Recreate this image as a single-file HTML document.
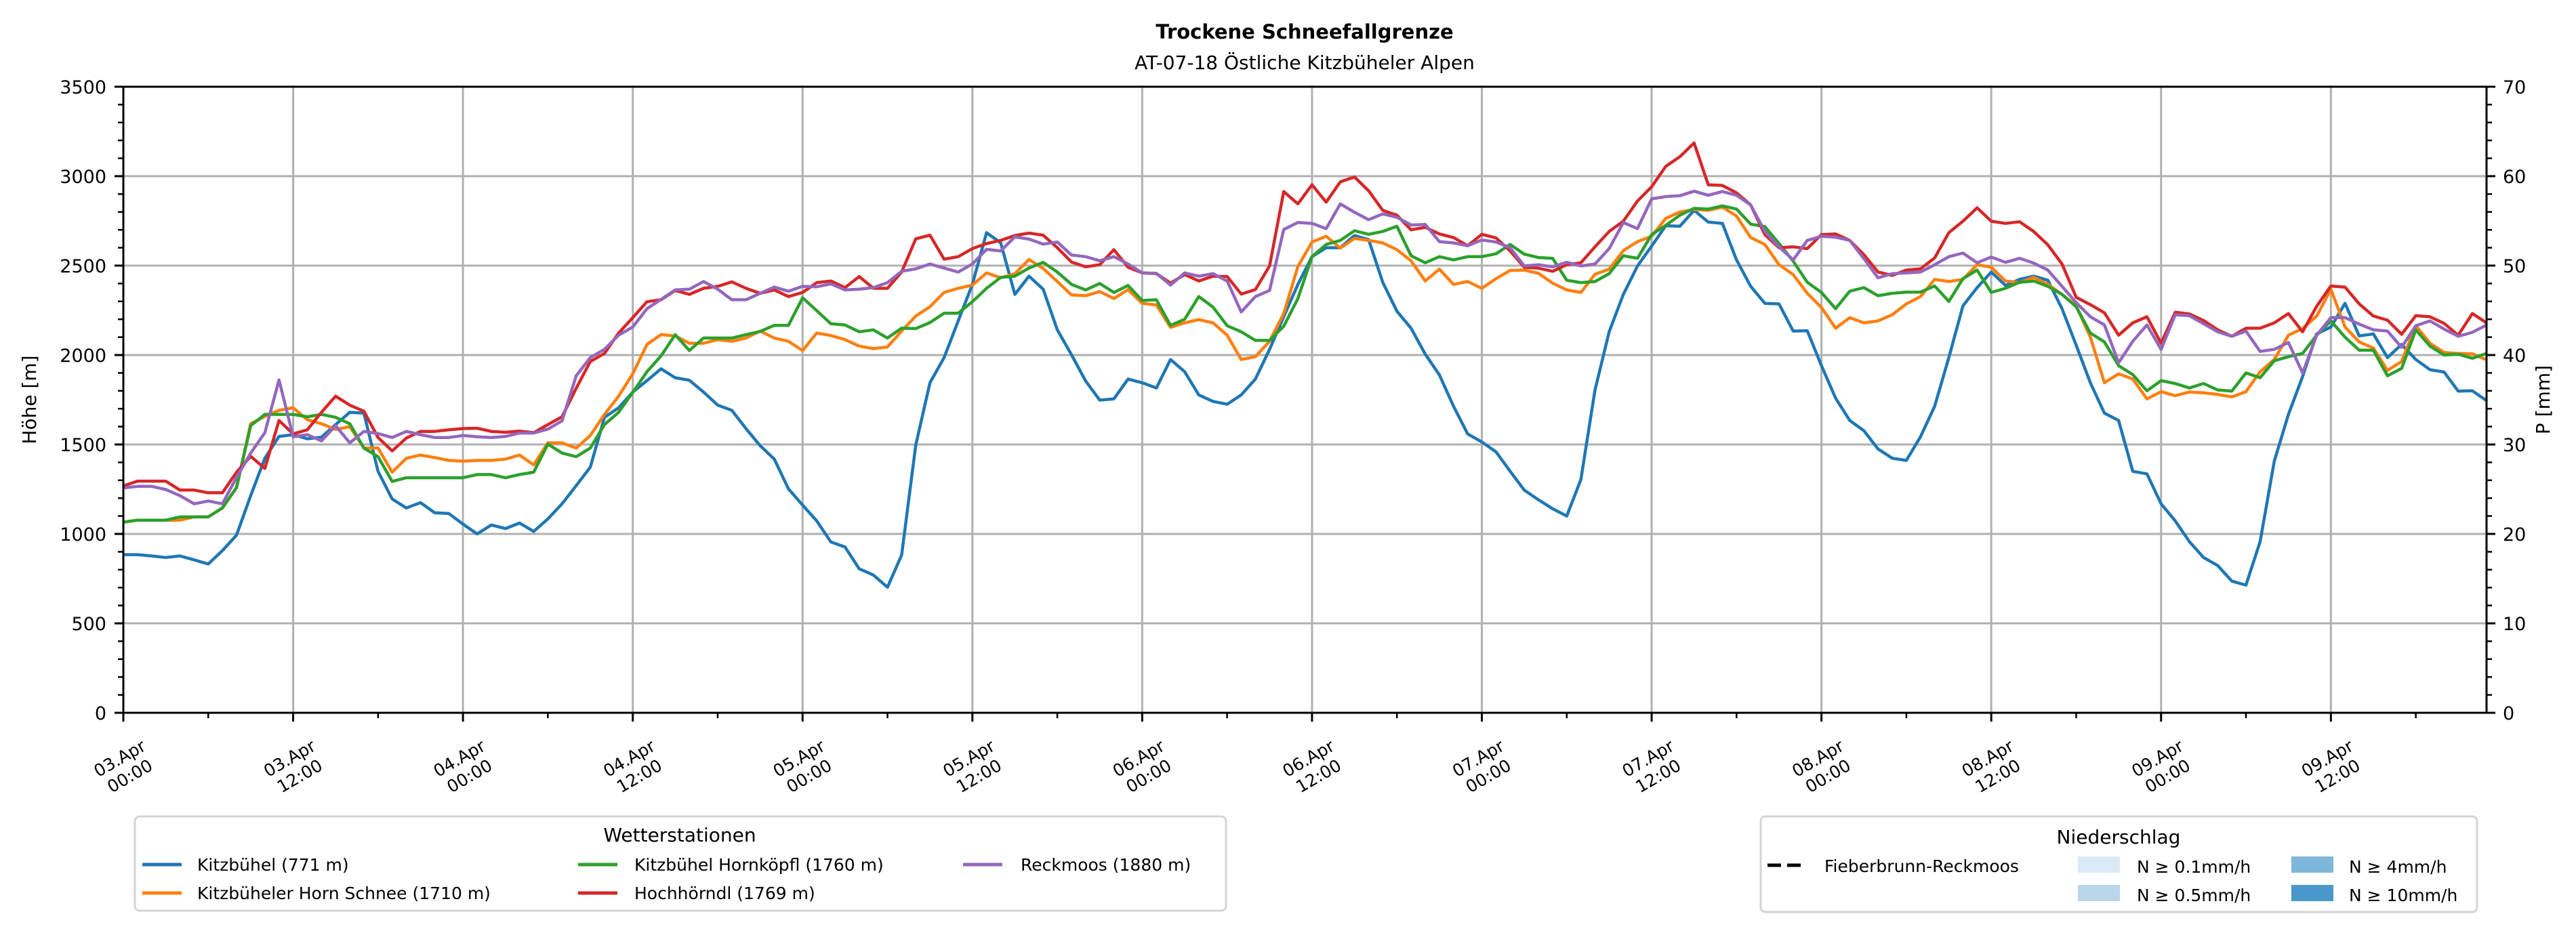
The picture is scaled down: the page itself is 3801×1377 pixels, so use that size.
<!DOCTYPE html>
<html><head><meta charset="utf-8"><style>
html,body{margin:0;padding:0;background:#fff;}
svg{display:block;font-family:"DejaVu Sans","Liberation Sans",sans-serif;}
</style></head><body>
<svg id="chart" width="3801" height="1377" viewBox="0 0 3801 1377" xmlns="http://www.w3.org/2000/svg">
<rect width="3801" height="1377" fill="#fff"/>
<text x="1925" y="57" text-anchor="middle" font-size="29" font-weight="bold">Trockene Schneefallgrenze</text>
<text x="1925" y="102" text-anchor="middle" font-size="28">AT-07-18 Östliche Kitzbüheler Alpen</text>
<g id="grid"></g>
<g id="series"></g>
<g id="axes"></g>
<text transform="translate(53,590) rotate(-90)" text-anchor="middle" font-size="28">Höhe [m]</text>
<text transform="translate(3762,590) rotate(-90)" text-anchor="middle" font-size="28">P [mm]</text>

<g>
<rect x="199" y="1205" width="1610" height="139" rx="7" fill="#fff" stroke="#d4d4d4" stroke-width="3"/>
<text x="1003" y="1242" text-anchor="middle" font-size="28">Wetterstationen</text>
<g><line x1="210" y1="1276" x2="268" y2="1276" stroke="#1f77b4" stroke-width="5"/><text x="291" y="1285" font-size="25">Kitzbühel (771 m)</text></g>
<g><line x1="210" y1="1318" x2="268" y2="1318" stroke="#ff7f0e" stroke-width="5"/><text x="291" y="1327" font-size="25">Kitzbüheler Horn Schnee (1710 m)</text></g>
<g><line x1="853" y1="1276" x2="911" y2="1276" stroke="#2ca02c" stroke-width="5"/><text x="936" y="1285" font-size="25">Kitzbühel Hornköpfl (1760 m)</text></g>
<g><line x1="853" y1="1318" x2="911" y2="1318" stroke="#d62728" stroke-width="5"/><text x="936" y="1327" font-size="25">Hochhörndl (1769 m)</text></g>
<g><line x1="1421" y1="1276" x2="1479" y2="1276" stroke="#9467bd" stroke-width="5"/><text x="1506" y="1285" font-size="25">Reckmoos (1880 m)</text></g>
</g>

<g>
<rect x="2598" y="1205" width="1057" height="141" rx="7" fill="#fff" stroke="#d4d4d4" stroke-width="3"/>
<text x="3126" y="1245" text-anchor="middle" font-size="28">Niederschlag</text>
<g><line x1="2608" y1="1277" x2="2666" y2="1277" stroke="#000" stroke-width="5" stroke-dasharray="20,9"/><text x="2692" y="1287" font-size="25">Fieberbrunn-Reckmoos</text></g>
<g><rect x="3066" y="1264" width="62" height="24" fill="#dbe9f6"/><text x="3153" y="1288" font-size="25">N ≥ 0.1mm/h</text></g>
<g><rect x="3066" y="1306" width="62" height="24" fill="#b8d5ea"/><text x="3153" y="1330" font-size="25">N ≥ 0.5mm/h</text></g>
<g><rect x="3381" y="1264" width="62" height="24" fill="#7fb7da"/><text x="3466" y="1288" font-size="25">N ≥ 4mm/h</text></g>
<g><rect x="3381" y="1306" width="62" height="24" fill="#4a98c9"/><text x="3466" y="1330" font-size="25">N ≥ 10mm/h</text></g>
</g>
</svg>
<script>
const kitzbuehel = [884,884,877,868,877,855,832,907,993,1214,1423,1545,1555,1532,1541,1611,1680,1675,1350,1195,1145,1175,1118,1114,1055,1000,1050,1030,1061,1014,1084,1168,1270,1373,1652,1705,1793,1857,1923,1873,1859,1793,1720,
1691,1589,1493,1418,1252,1161,1073,955,927,805,770,702,882,1498,1845,1986,2191,2395,2684,2627,2339,2441,2368,2141,2002,1855,1748,1755,1866,1845,1816,1975,1907,1777,1741,1725,1777,1866,2032,2214,2395,
2550,2600,2600,2668,2645,2407,2245,2150,2005,1889,1714,1559,1514,1459,1350,1245,1191,1141,1100,1305,1805,2130,2339,2498,2609,2723,2720,2809,2743,2736,2532,2384,2289,2286,2134,2136,1941,1759,1634,1577,1475,1423,
1411,1543,1714,1986,2275,2377,2464,2389,2423,2441,2418,2259,2055,1845,1675,1634,1350,1336,1168,1073,957,868,823,736,714,957,1407,1668,1880,2118,2157,2289,2107,2118,1986,2059,1975,1918,1905,1798,1800,1745];
const hornSchnee = [1066,1077,1077,1077,1077,1095,1095,1145,1259,1616,1657,1691,1705,1639,1616,1584,1600,1480,1480,1345,1423,1441,1427,1411,1407,1411,1411,1418,1441,1386,1509,1509,1480,1550,1668,1770,1895,2059,2114,2107,2066,2066,2086,
2077,2095,2134,2095,2077,2025,2123,2109,2086,2050,2036,2045,2134,2218,2270,2350,2373,2391,2459,2432,2455,2534,2484,2411,2336,2332,2355,2316,2366,2289,2280,2155,2180,2198,2180,2111,1975,1991,2077,2232,2495,
2632,2664,2598,2652,2641,2627,2589,2527,2414,2480,2395,2411,2373,2427,2473,2475,2457,2402,2364,2350,2452,2480,2584,2634,2664,2764,2800,2814,2809,2827,2777,2657,2618,2505,2450,2345,2266,2150,2209,2180,2191,2225,
2286,2327,2423,2411,2423,2505,2491,2414,2405,2434,2395,2339,2275,2100,1845,1895,1866,1755,1795,1773,1793,1789,1780,1766,1795,1907,1975,2111,2148,2218,2368,2157,2073,2039,1914,1964,2164,2066,2014,2009,2007,1973];
const hornkoepfl = [1066,1077,1077,1077,1095,1095,1095,1145,1259,1605,1668,1668,1668,1655,1668,1652,1616,1480,1432,1293,1314,1314,1314,1314,1314,1332,1332,1314,1332,1345,1502,1452,1432,1480,1611,1680,1791,1907,1995,2114,2025,2095,2095,
2095,2114,2132,2166,2166,2320,2248,2175,2168,2130,2141,2095,2150,2148,2182,2234,2234,2298,2373,2434,2441,2486,2518,2464,2395,2364,2400,2350,2389,2305,2309,2166,2200,2327,2268,2164,2130,2082,2082,2161,2316,
2550,2618,2641,2695,2675,2691,2720,2555,2516,2550,2532,2550,2550,2566,2618,2564,2545,2541,2418,2405,2411,2455,2555,2541,2673,2725,2782,2820,2816,2834,2816,2732,2718,2623,2525,2407,2350,2259,2357,2377,2332,2345,
2352,2352,2386,2300,2427,2475,2350,2373,2407,2414,2384,2339,2270,2123,2073,1941,1891,1800,1857,1841,1816,1841,1805,1798,1900,1873,1968,1991,2009,2111,2191,2100,2027,2027,1884,1925,2141,2050,2000,2005,1982,2009];
const hochhoerndl = [1268,1295,1295,1295,1245,1245,1230,1230,1345,1434,1366,1634,1559,1582,1680,1770,1720,1686,1539,1464,1536,1573,1573,1582,1589,1591,1573,1568,1575,1566,1611,1655,1814,1964,2009,2123,2209,2298,2309,2361,2339,2373,2384,
2409,2373,2345,2364,2327,2350,2405,2414,2377,2439,2373,2373,2464,2650,2670,2536,2550,2595,2623,2641,2668,2682,2670,2600,2520,2493,2505,2589,2491,2459,2455,2402,2450,2414,2441,2439,2341,2366,2498,2914,2845,
2952,2855,2968,2995,2918,2809,2782,2700,2714,2677,2657,2611,2675,2655,2582,2491,2486,2468,2505,2516,2605,2691,2748,2861,2941,3055,3109,3186,2952,2948,2907,2839,2673,2600,2605,2595,2673,2677,2641,2561,2464,2445,
2475,2482,2543,2684,2748,2823,2748,2736,2745,2691,2616,2509,2323,2282,2236,2111,2180,2214,2066,2239,2230,2193,2141,2105,2150,2150,2180,2232,2130,2273,2386,2380,2286,2218,2195,2116,2220,2214,2177,2111,2232,2180];
const reckmoos = [1257,1266,1266,1248,1214,1168,1184,1168,1316,1452,1566,1861,1543,1555,1520,1605,1509,1573,1561,1539,1573,1555,1539,1539,1550,1543,1539,1545,1564,1564,1586,1632,1884,1986,2032,2111,2157,2259,2311,2364,2368,2411,2368,
2309,2309,2345,2380,2357,2384,2382,2398,2364,2368,2377,2405,2468,2482,2509,2486,2464,2509,2591,2582,2661,2648,2620,2632,2559,2550,2527,2550,2509,2459,2457,2391,2459,2441,2455,2414,2241,2327,2361,2702,2741,
2736,2707,2845,2798,2757,2789,2770,2727,2730,2634,2627,2611,2643,2632,2600,2498,2505,2493,2518,2498,2509,2595,2741,2707,2873,2886,2891,2916,2893,2914,2893,2839,2691,2605,2532,2641,2664,2659,2641,2539,2432,2455,
2459,2464,2505,2550,2570,2516,2548,2518,2541,2514,2475,2384,2293,2214,2168,1957,2077,2168,2032,2225,2220,2175,2130,2105,2134,2020,2032,2070,1900,2111,2209,2209,2173,2141,2134,2043,2164,2191,2145,2105,2127,2168];
const yTicks = [0,500,1000,1500,2000,2500,3000,3500];
const y2Ticks = [0,10,20,30,40,50,60,70];
const xTickHours = [0,12,24,36,48,60,72,84,96,108,120,132,144,156];
const xTickDays = ["03.Apr","03.Apr","04.Apr","04.Apr","05.Apr","05.Apr","06.Apr","06.Apr","07.Apr","07.Apr","08.Apr","08.Apr","09.Apr","09.Apr"];
const xTickTimes = ["00:00","12:00","00:00","12:00","00:00","12:00","00:00","12:00","00:00","12:00","00:00","12:00","00:00","12:00"];

const NS='http://www.w3.org/2000/svg';
const L=182,R=3669,T=128,B=1052,HMAX=167;
const xs=h=>L+h*(R-L)/HMAX;
const ys=m=>B-m*(B-T)/3500;
const ys2=p=>B-p*(B-T)/70;
function mk(tag,attrs,parent){const e=document.createElementNS(NS,tag);for(const k in attrs)e.setAttribute(k,attrs[k]);parent.appendChild(e);return e;}
const grid=document.getElementById('grid'),axes=document.getElementById('axes'),ser=document.getElementById('series');

yTicks.forEach(v=>{
  const g=mk('line',{x1:L,x2:R,y1:ys(v),y2:ys(v),stroke:'#b0b0b0','stroke-width':3},grid);
  
  
});
xTickHours.forEach(h=>{
  const g=mk('line',{x1:xs(h),x2:xs(h),y1:T,y2:B,stroke:'#b0b0b0','stroke-width':3},grid);
  
  
});

const series=[[kitzbuehel,'#1f77b4','line-kitzbuehel'],[hornSchnee,'#ff7f0e','line-horn-schnee'],[hornkoepfl,'#2ca02c','line-hornkoepfl'],[hochhoerndl,'#d62728','line-hochhoerndl'],[reckmoos,'#9467bd','line-reckmoos']];
series.forEach(([d,c,n])=>{
  const pts=d.map((v,i)=>xs(i).toFixed(1)+','+ys(v).toFixed(1)).join(' ');
  const p=mk('polyline',{points:pts,fill:'none',stroke:c,'stroke-width':4.5,'stroke-linejoin':'round'},ser);
  
  
});

mk('rect',{x:L,y:T,width:R-L,height:B-T,fill:'none',stroke:'#000','stroke-width':3},axes);
for(let v=0;v<=3500;v+=100){
  const major=v%500===0;
  mk('line',{x1:L,x2:L-(major?13:8),y1:ys(v),y2:ys(v),stroke:'#000','stroke-width':major?3:2.5},axes);
  mk('line',{x1:R,x2:R+(major?13:8),y1:ys(v),y2:ys(v),stroke:'#000','stroke-width':major?3:2.5},axes);
}
yTicks.forEach(v=>{
  const t=mk('text',{x:L-25,y:ys(v)+10,'text-anchor':'end','font-size':27},axes);
  t.textContent=v;
  
  
});
y2Ticks.forEach(v=>{
  const t=mk('text',{x:R+24,y:ys2(v)+10,'text-anchor':'start','font-size':27},axes);
  t.textContent=v;
  
  
});
for(let h=0;h<=HMAX;h+=6){
  const major=h%12===0;
  mk('line',{x1:xs(h),x2:xs(h),y1:B,y2:B+(major?13:8),stroke:'#000','stroke-width':major?3:2.5},axes);
}
xTickHours.forEach((h,i)=>{
  const g=mk('g',{transform:`translate(${xs(h)+2},1132) rotate(-30)`},axes);
  
  
  const a=mk('text',{x:0,y:-6,'text-anchor':'middle','font-size':25},g);a.textContent=xTickDays[i];
  const b=mk('text',{x:0,y:24,'text-anchor':'middle','font-size':25},g);b.textContent=xTickTimes[i];
});
</script>
</body></html>
